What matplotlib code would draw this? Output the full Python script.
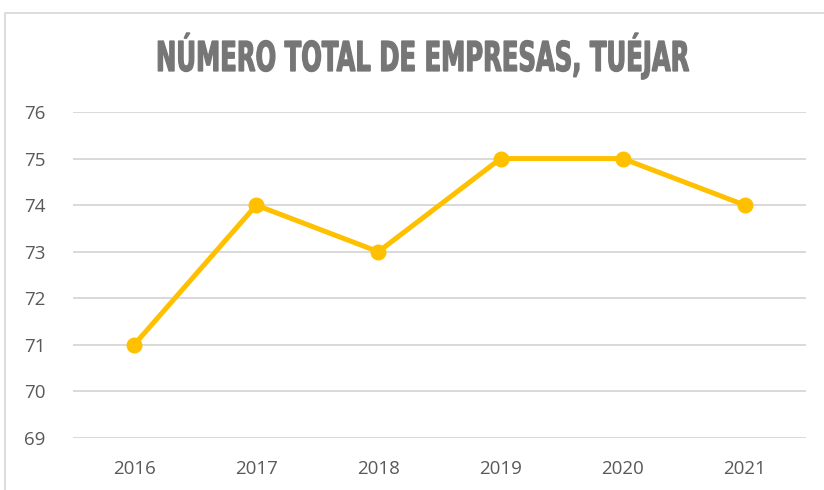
import matplotlib
matplotlib.use("Agg")
import matplotlib.pyplot as plt
from matplotlib.patches import Rectangle
from matplotlib.patheffects import AbstractPathEffect
from matplotlib.transforms import Affine2D

years = ["2016", "2017", "2018", "2019", "2020", "2021"]
empresas = [71, 74, 73, 75, 75, 74]
y_ticks = [69, 70, 71, 72, 73, 74, 75, 76]
title = "NÚMERO TOTAL DE EMPRESAS, TUÉJAR"

W, H = 824, 490
fig = plt.figure(figsize=(W / 100, H / 100), dpi=100)
fig.patch.set_facecolor("white")


class Stretch(AbstractPathEffect):
    """Scale rendered text about a point (display coords) to mimic a condensed heavy font."""
    def __init__(self, sx, sy, cx, cy, stroke=1.0, color="#767676"):
        super().__init__()
        self.sx, self.sy, self.cx, self.cy = sx, sy, cx, cy
        self.stroke, self.color = stroke, color

    def draw_path(self, renderer, gc, tpath, affine, rgbFace=None):
        t = affine + Affine2D().translate(-self.cx, -self.cy).scale(self.sx, self.sy).translate(self.cx, self.cy)
        gc0 = renderer.new_gc()
        gc0.copy_properties(gc)
        gc0.set_linewidth(self.stroke)
        gc0.set_foreground(self.color)
        gc0.set_joinstyle("miter")
        renderer.draw_path(gc0, tpath, t, rgbFace)
        gc0.restore()


# chart border (left & top visible, right/bottom cropped)
fig.patches.append(Rectangle((5 / W, -0.1), 1.2, 1 - 13 / H + 0.1, transform=fig.transFigure,
                             fill=False, edgecolor="#d9d9d9", linewidth=1.3))

ax = fig.add_axes([73 / W, 1 - 438 / H, (806 - 73) / W, (438 - 112) / H])
x = list(range(len(years)))
ax.plot(x, empresas, color="#FFC000", linewidth=3.6, marker="o", markersize=10.5,
        markerfacecolor="#FFC000", markeredgecolor="#FFC000", zorder=3)
ax.set_xlim(-0.5, len(years) - 0.5)
ax.set_ylim(69, 76)
ax.set_yticks(y_ticks)
ax.set_xticks(x)
ax.set_xticklabels(years)
ax.yaxis.grid(True, color="#d9d9d9", linewidth=1.4)
ax.set_axisbelow(True)
for s in ax.spines.values():
    s.set_visible(False)
ax.tick_params(length=0, labelsize=13.5, labelcolor="#595959")
ax.tick_params(axis="x", pad=16)
ax.tick_params(axis="y", pad=35)
for lab in ax.get_yticklabels() + ax.get_xticklabels():
    lab.set_fontfamily("Open Sans")
for lab in ax.get_yticklabels():
    lab.set_horizontalalignment("left")

# title: condensed heavy look
fs = 16
cx, base_y = 422.5, H - 71
t = fig.text(cx / W, base_y / H, title, ha="center", va="baseline", fontsize=fs,
             fontweight="bold", color="#767676", family="DejaVu Sans")
fig.canvas.draw()
bb = t.get_window_extent(renderer=fig.canvas.get_renderer())
sx = 533.0 / bb.width
cap_px = fs * 100 / 72 * 0.729
sy = 30.0 / cap_px
t.set_path_effects([Stretch(sx, sy, cx, base_y, stroke=0.9, color="#767676")])

fig.savefig("out.png", dpi=100)
